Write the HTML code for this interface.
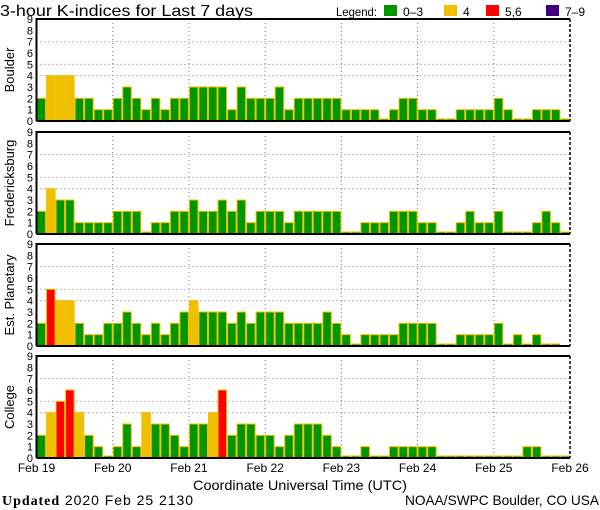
<!DOCTYPE html>
<html><head><meta charset="utf-8"><style>
body{margin:0;background:#fff;}
svg{display:block;font-family:"Liberation Sans",sans-serif;}
</style></head><body>
<svg id="chart" width="600" height="510" viewBox="0 0 600 510">
<text x="0" y="16" font-size="16" textLength="253" lengthAdjust="spacingAndGlyphs">3-hour K-indices for Last 7 days</text>
<g font-size="12">
<text x="336" y="16" textLength="41" lengthAdjust="spacingAndGlyphs">Legend:</text>
<rect x="384" y="5" width="13" height="11" fill="#009600"/>
<text x="403" y="16">0–3</text>
<rect x="444" y="5" width="13" height="11" fill="#f0c000"/>
<text x="463" y="16">4</text>
<rect x="486" y="5" width="13" height="11" fill="#ff0000"/>
<text x="505" y="16">5,6</text>
<rect x="546" y="5" width="13" height="11" fill="#400080"/>
<text x="565" y="16">7–9</text>
</g>
<text x="193" y="490" font-size="14" textLength="214" lengthAdjust="spacingAndGlyphs">Coordinate Universal Time (UTC)</text>
<text x="2" y="505" font-size="14" textLength="191" lengthAdjust="spacing"><tspan font-family="Liberation Serif" font-weight="bold">Updated</tspan> 2020 Feb 25 2130</text>
<text x="405" y="505" font-size="14" textLength="194" lengthAdjust="spacingAndGlyphs">NOAA/SWPC Boulder, CO USA</text>
</svg>
<script>
const stations = ["Boulder","Fredericksburg","Est. Planetary","College"];
const boulder = [2,4,4,4,2,2,1,1,2,3,2,1,2,1,2,2,3,3,3,3,1,3,2,2,2,3,1,2,2,2,2,2,1,1,1,1,0,1,2,2,1,1,0,0,1,1,1,1,2,1,0,0,1,1,1,0];
const fredericksburg = [2,4,3,3,1,1,1,1,2,2,2,0,1,1,2,2,3,2,2,3,2,3,1,2,2,2,1,2,2,2,2,2,0,0,1,1,1,2,2,2,1,1,0,0,1,2,1,1,2,0,0,0,1,2,1,0];
const planetary = [2,5,4,4,2,1,1,2,2,3,2,1,2,1,2,3,4,3,3,3,2,3,2,3,3,3,2,2,2,2,3,2,1,0,1,1,1,1,2,2,2,2,0,0,1,1,1,1,2,0,1,0,1,0,0,null];
const college = [2,4,5,6,4,2,1,0,1,3,1,4,3,3,2,1,3,3,4,6,2,3,3,2,2,1,2,3,3,3,2,1,0,0,1,0,0,1,1,1,1,1,0,0,0,0,0,0,0,0,0,1,1,0,0,0];
const dayLabels = ["Feb 19","Feb 20","Feb 21","Feb 22","Feb 23","Feb 24","Feb 25","Feb 26"];
const yTicks = [0,1,2,3,4,5,6,7,8,9];
const gridLevels = [4,5,7];

const series = [boulder, fredericksburg, planetary, college];
const panelTops = [19,132,244,356];
const NS = "http://www.w3.org/2000/svg";
const svg = document.getElementById("chart");
const X0 = 36.5, X1 = 570, PH = 102, nBars = 56;
const bw = (X1 - X0) / nBars;
const xDay = d => X0 + d * (X1 - X0) / 7;
const xBar = i => X0 + i * bw;
function mk(tag, attrs){const e=document.createElementNS(NS,tag);for(const k in attrs)e.setAttribute(k,attrs[k]);return e;}
function color(v){return v>=7?"#400080":v>=5?"#ff0000":v===4?"#f0c000":"#009600";}

series.forEach((data, p) => {
  const top = panelTops[p], bot = top + PH;
  const y = v => bot - v * PH / 9;
  const g = mk("g", {});
  
  
  svg.appendChild(g);
  gridLevels.forEach(l => {
    const ln = mk("line", {x1:X0, x2:X1, y1:y(l), y2:y(l), stroke:"#777", "stroke-dasharray":"1,3"});
    
    
    g.appendChild(ln);
  });
  for (let d = 1; d < 7; d++) {
    const ln = mk("line", {x1:xDay(d), x2:xDay(d), y1:top, y2:bot, stroke:"#777", "stroke-dasharray":"1,3"});
    
    
    g.appendChild(ln);
  }
  data.forEach((v, i) => {
    if (v === null) return;
    const h = v === 0 ? 2 : v * PH / 9;
    const r = mk("rect", {x:xBar(i)+0.5, y:bot-h, width:bw-1, height:h, fill:color(v), stroke:"#f0c000", "stroke-width":1});
    
    
    g.appendChild(r);
  });
  const fr = mk("path", {d:`M${X0},${bot} L${X0},${top} L${X1},${top}`, fill:"none", stroke:"#000", "stroke-width":2});
  
  
  g.appendChild(fr);
  const rb = mk("line", {x1:X1, x2:X1, y1:top, y2:bot, stroke:"#000", "stroke-width":1.5, "stroke-dasharray":"3,2"});
  
  
  g.appendChild(rb);
  const bl = mk("line", {x1:X0, x2:X1, y1:bot, y2:bot, stroke:"#000", "stroke-width":2});
  
  
  g.appendChild(bl);
  yTicks.forEach(t => {
    const tx = mk("text", {x:33, y:y(t)+4, "font-size":11, "text-anchor":"end"});
    tx.textContent = t;
    
    
    g.appendChild(tx);
  });
  const cy = top + PH/2;
  const lbl = mk("text", {x:14, y:cy, "font-size":13, "text-anchor":"middle", transform:`rotate(-90 14 ${cy})`});
  lbl.textContent = stations[p];
  
  
  g.appendChild(lbl);
});
dayLabels.forEach((d, i) => {
  const tx = mk("text", {x:xDay(i), y:472, "font-size":12, "text-anchor":"middle"});
  tx.textContent = d;
  
  
  svg.appendChild(tx);
});
</script>
</body></html>
